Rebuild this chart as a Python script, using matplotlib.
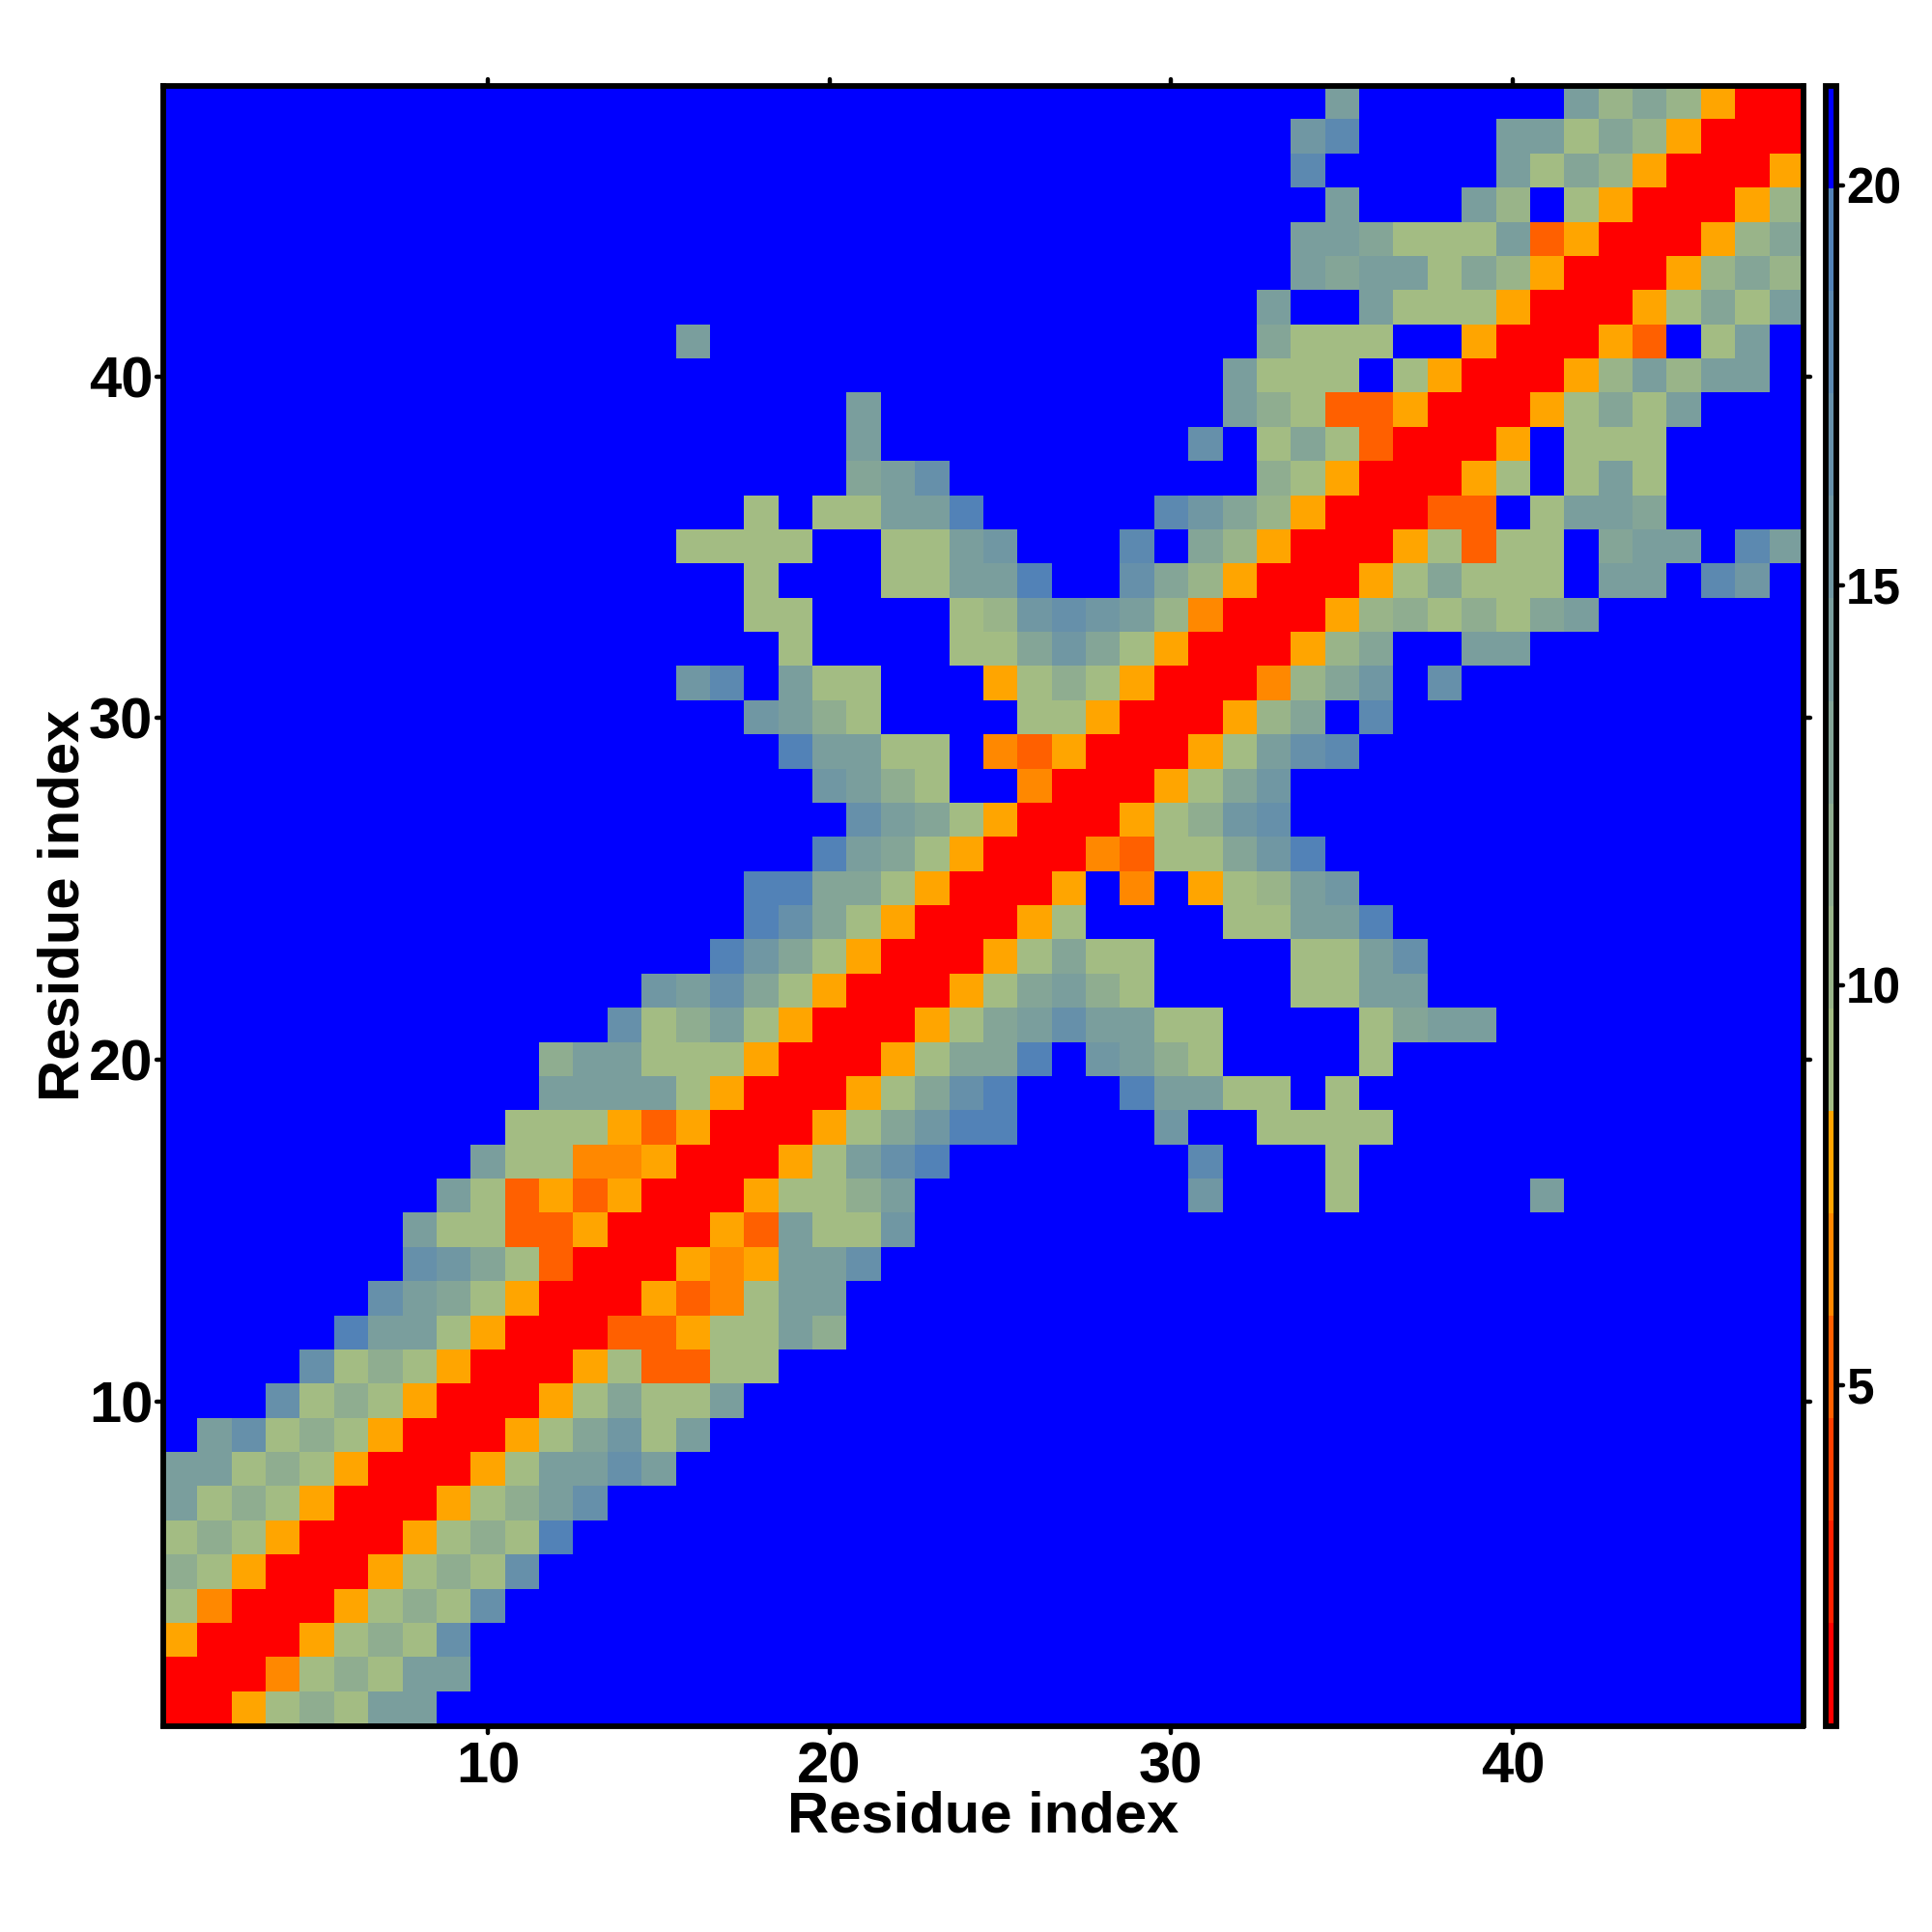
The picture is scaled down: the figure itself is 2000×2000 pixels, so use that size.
import numpy as np
import matplotlib
matplotlib.use('Agg')
import matplotlib.pyplot as plt
from matplotlib.colors import ListedColormap, BoundaryNorm
from matplotlib.markers import MarkerStyle

plt.rcParams['font.family'] = ['Liberation Sans', 'DejaVu Sans']
plt.rcParams['font.weight'] = 'bold'

residues = 48
tick_residues = [10, 20, 30, 40]
tick_distance = [5, 10, 15, 20]
band_low = 0.74
band_step = 1.28125

band_colors = ['#ff0000', '#ff2000', '#ff4000', '#ff6000', '#ff8800', '#ffa500',
               '#a3bc83', '#99b489', '#8fad90', '#84a597', '#7a9e9d', '#7097a3',
               '#6690aa', '#5c89b0', '#5282b7', '#0000ff']

# lower triangle of the map, one band digit per cell (f = no contact)
# each row runs from its first coloured column up to the diagonal
first_col = [1, 1, 1, 1, 1, 1, 1, 1, 2, 4, 5, 6, 7, 8, 8, 9,
             10, 11, 12, 12, 14, 15, 17, 18, 18, 20, 21, 20, 19, 18, 16, 19,
             18, 18, 16, 18, 21, 21, 21, 32, 16, 33, 34, 34, 35, 34, 34, 35]
rows_1_16 = ['0', '00', '500', '6400', '86500', '686500', 'a686500', 'aa686500',
             'ac686500', 'c686500', 'c686500', 'eaa6500', 'ca96500', 'cb96300',
             'a6633500', 'a6353500']
rows_17_32 = ['a6644500', '66653500', 'aaaa6500', '8aa666500', 'c68a6500',
              'bac96500', 'eb96500', 'ec96500', 'ee996500', 'ea96500', 'ca96500',
              'ba86ff400', 'eaa66f43500', 'ba86ffff66500', 'bdfa66fff5686500',
              '6ffff669b96500']
rows_33_48 = ['66ffff67bcba7400', '6fff66aaeffc97500', '6666ff66abfffdf97500',
              '6f66aaefffffdb97500', '9acfffffffff86500', 'afffffffffcf696300',
              'affffffffffa8633500', 'a666f6500', 'affffffffffffffff9666ff500',
              'affa666500', 'a9aa697500', 'aa9666a3500', 'afffa7f6500',
              'dfffffa697500', 'bdffffaa697500', 'affffffa797500']

rows = rows_1_16 + rows_17_32 + rows_33_48
edges = band_low + band_step * np.arange(len(band_colors) + 1)
centers = (edges[:-1] + edges[1:]) / 2

dist = np.full((residues, residues), centers[-1])
for r, (start, cells) in enumerate(zip(first_col, rows), start=1):
    assert len(cells) == r - start + 1, r
    for k, c in enumerate(cells, start=start):
        dist[r - 1, k - 1] = centers[int(c, 16)]
        dist[k - 1, r - 1] = centers[int(c, 16)]

cmap = ListedColormap(band_colors)
norm = BoundaryNorm(edges, cmap.N)


def round_ticks(axis):
    for t in axis.get_major_ticks():
        for line in (t.tick1line, t.tick2line):
            line.set_marker(MarkerStyle(line.get_marker(), capstyle='round'))


fig = plt.figure(figsize=(10, 10), dpi=200)
ax = fig.add_axes([169 / 2000, 1 - 1786.5 / 2000, 1697.5 / 2000, 1697.5 / 2000])
im = ax.imshow(dist, origin='lower', cmap=cmap, norm=norm, aspect='auto',
               interpolation='nearest', extent=(0.5, residues + 0.5, 0.5, residues + 0.5))
ax.set_xticks(tick_residues)
ax.set_yticks(tick_residues)
ax.tick_params(which='both', direction='out', length=2.6, width=1.6, top=True, right=True,
               labelsize=21.5)
ax.tick_params(axis='x', pad=3)
ax.tick_params(axis='y', pad=1.2)
round_ticks(ax.xaxis)
round_ticks(ax.yaxis)
for s in ax.spines.values():
    s.set_linewidth(2.1)
ax.set_xlabel('Residue index', fontsize=21.5, fontweight='bold')
ax.set_ylabel('Residue index', fontsize=21.5, fontweight='bold')
ax.xaxis.set_label_coords(0.5, -0.0395)
ax.yaxis.set_label_coords(-0.0445, 0.5)

cax = fig.add_axes([1889.5 / 2000, 1 - 1786.5 / 2000, 11.5 / 2000, 1697.5 / 2000])
cb = fig.colorbar(im, cax=cax, spacing='proportional', ticks=tick_distance)
cb.outline.set_linewidth(2.1)
cb.ax.tick_params(direction='out', length=2.6, width=1.6, labelsize=18.5, pad=1)
cb.ax.minorticks_off()
round_ticks(cb.ax.yaxis)

fig.savefig('out.png', dpi=200, facecolor='white')
